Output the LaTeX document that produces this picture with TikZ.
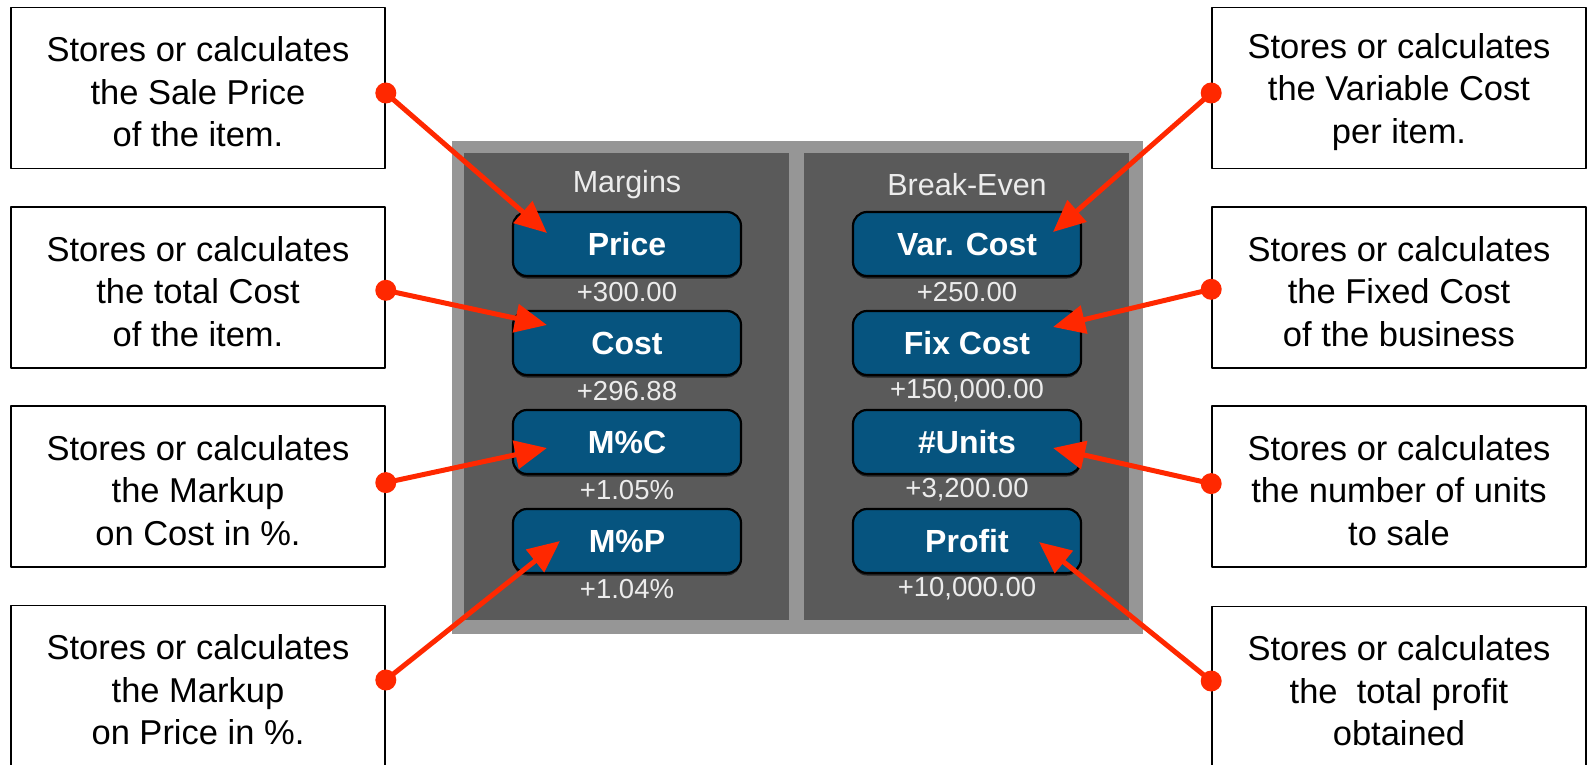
\documentclass[tikz,border=0pt]{standalone}
\usepackage{fontspec}
\setmainfont{Liberation Sans}
\usetikzlibrary{arrows.meta,shadows}
\definecolor{ptred}{RGB}{255,40,0}
\definecolor{btnblue}{RGB}{6,84,127}
\definecolor{framegray}{RGB}{150,150,150}
\definecolor{panegray}{RGB}{90,90,90}
\definecolor{lblgray}{RGB}{236,236,236}
\def\tp{\rule{0pt}{33pt}}
\begin{document}
\begin{tikzpicture}[x=1pt,y=-1pt,line join=round,
    note/.style={draw,line width=1.6pt,minimum width=374pt,minimum height=161pt,align=center,
        font=\fontsize{34.5}{42.5}\selectfont},
    key/.style={draw=black,line width=2.2pt,fill=btnblue,rounded corners=14pt,
        minimum width=228pt,minimum height=64pt,text=white,font=\fontsize{32}{36}\selectfont\bfseries,
        drop shadow={shadow xshift=0pt,shadow yshift=-2.5pt,fill=black,opacity=.6}},
    val/.style={text=lblgray,font=\fontsize{27.5}{31}\selectfont},
    pointer/.style={ptred,line width=5pt,-{Triangle[length=32pt,width=28pt]}}]
    \useasboundingbox (0,0) rectangle (1587,765);
    \def \xl{198}
    \def \xr{1399}
    \def \xm{627}
    \def \xb{967}
    \fill[framegray] (452,141) rectangle (1143,634);
    \fill[panegray] (464,153) rectangle (789,620);
    \fill[panegray] (804,153) rectangle (1129,620);
    \node[val,font=\fontsize{30.5}{34}\selectfont] (margins) at (\xm,185) {Margins};
    \node[val,font=\fontsize{30.5}{34}\selectfont] (breakeven) at (\xb,185) {Break-Even};
    \foreach \n/\t/\v [count=\i] in {price/Price/+300.00,cost/Cost/+296.88,mpc/M\%C/+1.05\%,mpp/M\%P/+1.04\%}{
        \node[key] (\n) at (\xm,{244+(\i-1)*99}) {\t};
        \node[val] (\n v) at (\xm,{292+(\i-1)*99}) {\v};
    }
    \foreach \n/\t/\v [count=\i] in {var/Var. Cost/+250.00,fix/Fix Cost/{+150,000.00},units/\#Units/{+3,200.00},profit/Profit/{+10,000.00}}{
        \node[key] (\n) at (\xb,{244+(\i-1)*99}) {\t};
        \node[val] (\n v) at (\xb,{292+(\i-1)*99}) {\v};
    }
    \node[note] (l1) at (\xl,88) {\tp Stores or calculates\\the Sale Price\\of the item.};
    \node[note] (l2) at (\xl,287.3) {\tp Stores or calculates\\the total Cost\\of the item.};
    \node[note] (l3) at (\xl,486.6) {\tp Stores or calculates\\the Markup\\on Cost in \%.};
    \node[note] (l4) at (\xl,686) {\tp Stores or calculates\\the Markup\\on Price in \%.};
    \node[note] (r1) at (\xr,88) {\tp Stores or calculates\\the Variable Cost\\per item.};
    \node[note] (r2) at (\xr,287.3) {\tp Stores or calculates\\the Fixed Cost\\of the business};
    \node[note] (r3) at (\xr,486.6) {\tp Stores or calculates\\the number of units\\to sale};
    \node[note] (r4) at (\xr,687) {\tp Stores or calculates\\the~ total profit\\obtained};
    \foreach \a/\b/\d/\s in {l1/price/5/{(-80,-11)},l2/cost/3/{(-80,-18)},l3/mpc/-4/{(-80,6)},l4/mpp/-6/{(-67,0)}}{
        \fill[ptred] ([shift={(0,\d)}]\a.east) circle (10.5pt);
        \draw[pointer] ([shift={(0,\d)}]\a.east) -- ([shift={\s}]\b.center);
    }
    \foreach \a/\b/\d/\s in {r1/var/5/{(86,-12)},r2/fix/2/{(86,-16)},r3/units/-3/{(86,6)},r4/profit/-6/{(72,1)}}{
        \fill[ptred] ([shift={(0,\d)}]\a.west) circle (10.5pt);
        \draw[pointer] ([shift={(0,\d)}]\a.west) -- ([shift={\s}]\b.center);
    }
\end{tikzpicture}
\end{document}
